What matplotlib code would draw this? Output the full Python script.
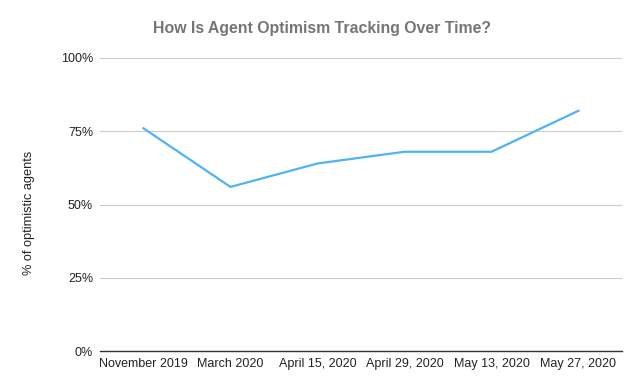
import matplotlib
matplotlib.use("Agg")
import matplotlib.pyplot as plt
from matplotlib.ticker import FuncFormatter

categories = ["November 2019", "March 2020", "April 15, 2020", "April 29, 2020", "May 13, 2020", "May 27, 2020"]
optimism = [0.76, 0.56, 0.64, 0.68, 0.68, 0.82]
yticks = [0, 0.25, 0.5, 0.75, 1.0]

plt.rcParams['font.family'] = ['Liberation Sans', 'DejaVu Sans']

fig = plt.figure(figsize=(6.42, 3.91), dpi=100)
ax = fig.add_axes([100/642, 1-351/391, 522/642, 293/391])

x = list(range(len(categories)))
ax.plot(x, optimism, color="#4FB3F6", linewidth=1.6, solid_joinstyle="miter")
ax.set_xlim(-0.5, len(categories)-0.5)
ax.set_ylim(0, 1.0)
ax.set_yticks(yticks)
ax.yaxis.set_major_formatter(FuncFormatter(lambda v, p: f"{int(round(v*100))}%"))
ax.set_xticks(x)
ax.set_xticklabels(categories)
ax.grid(axis="y", color="#cccccc", linewidth=0.8)
ax.set_axisbelow(True)
for s in ["top", "right", "left"]:
    ax.spines[s].set_visible(False)
ax.spines["bottom"].set_color("#333333")
ax.spines["bottom"].set_linewidth(1.0)
ax.tick_params(axis="both", length=0, labelsize=9.0, colors="#222222")
ax.tick_params(axis="y", pad=5)
ax.tick_params(axis="x", pad=5)
ax.set_ylabel("% of optimistic agents", fontsize=9.2, color="#222222")
ax.yaxis.set_label_coords(-0.125, 0.47)
fig.text(322/642, 1-29/391, "How Is Agent Optimism Tracking Over Time?", ha="center", va="center",
         fontsize=11.4, fontweight="bold", color="#757575")
fig.savefig("out.png", dpi=100)
